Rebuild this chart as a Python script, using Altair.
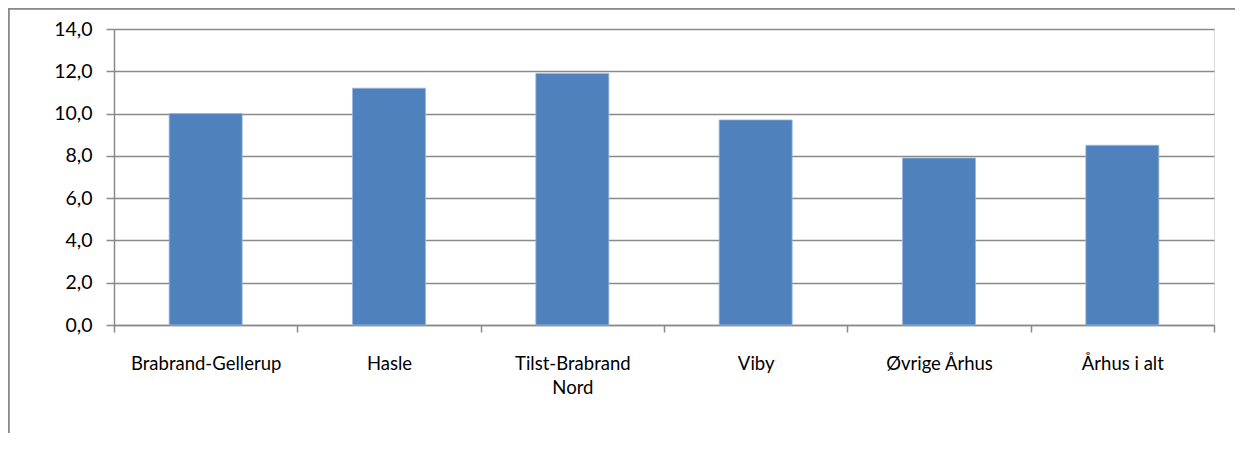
import altair as alt
import pandas as pd

categories = ["Brabrand-Gellerup", "Hasle", "Tilst-Brabrand Nord", "Viby", "Øvrige Århus", "Århus i alt"]
values = [10.0, 11.2, 11.9, 9.7, 7.9, 8.5]
y_ticks = [0, 2, 4, 6, 8, 10, 12, 14]

df = pd.DataFrame({"omraade": categories, "vaerdi": values})

FONT = "Lato"
GRAY = "#8a8a8a"

bars = alt.Chart(df).mark_bar(color="#4F81BD", width=73, stroke="#9db5d9", strokeWidth=0.8).encode(
    x=alt.X("omraade:N", sort=categories, title=None,
            scale=alt.Scale(paddingInner=0, paddingOuter=0),
            axis=alt.Axis(labelAngle=0, labelFont=FONT, labelFontSize=18.5, labelColor="#000000",
                          labelPadding=22, tickBand="extent", tickSize=7, tickColor=GRAY,
                          domainColor=GRAY, domainWidth=1.5, tickWidth=1.5, grid=False,
                          labelLineHeight=24,
                          labelExpr="datum.value == 'Tilst-Brabrand Nord' ? ['Tilst-Brabrand', 'Nord'] : datum.value")),
    y=alt.Y("vaerdi:Q", title=None,
            scale=alt.Scale(domain=[0, 14], nice=False),
            axis=alt.Axis(values=y_ticks, labelFont=FONT, labelFontSize=19.5, labelColor="#000000",
                          labelPadding=14, tickSize=8, tickColor=GRAY, domainColor=GRAY,
                          domainWidth=1.5, tickWidth=1.5, gridColor=GRAY, gridWidth=1.5,
                          labelExpr="replace(format(datum.value, '.1f'), '.', ',')")),
)

frame_top = alt.Chart(df).mark_rule(stroke=GRAY, strokeWidth=1.5).encode(
    x=alt.value(-105.5), x2=alt.value(1200), y=alt.value(-20.5)
)
frame_left = alt.Chart(df).mark_rule(stroke=GRAY, strokeWidth=1.5).encode(
    x=alt.value(-105.5), y=alt.value(-20.5), y2=alt.value(500)
)

chart = alt.layer(frame_top, frame_left, bars).properties(
    width=1100, height=296,
    autosize=alt.AutoSizeParams(type="none"),
    padding={"left": 106, "top": 21, "right": 21, "bottom": 108},
).configure_view(stroke=None).configure(background="white")

chart.save("out.html", embed_options={"renderer": "svg", "actions": False})
